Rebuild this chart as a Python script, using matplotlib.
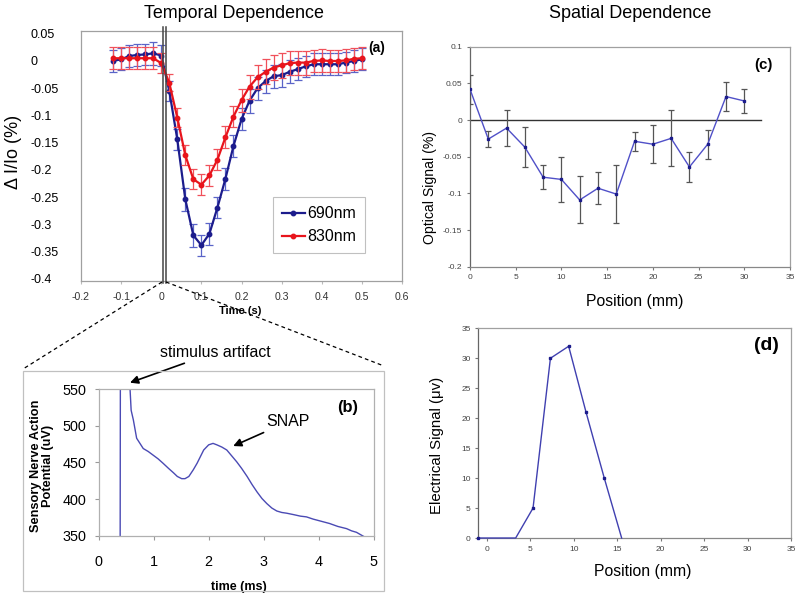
import matplotlib
matplotlib.use("Agg")
import matplotlib.pyplot as plt
from matplotlib.lines import Line2D
from matplotlib.patches import Rectangle

plt.rcParams['font.family'] = ['Liberation Sans', 'DejaVu Sans']

# ---- data: (a) temporal dependence ----
time_s = [-0.12, -0.10, -0.08, -0.06, -0.04, -0.02, 0.00, 0.02, 0.04, 0.06, 0.08,
          0.10, 0.12, 0.14, 0.16, 0.18, 0.20, 0.22, 0.24, 0.26, 0.28, 0.30, 0.32,
          0.34, 0.36, 0.38, 0.40, 0.42, 0.44, 0.46, 0.48, 0.50]
sig_690 = [0.000, 0.003, 0.009, 0.011, 0.012, 0.014, 0.010, -0.055, -0.144, -0.254, -0.320,
           -0.338, -0.317, -0.269, -0.216, -0.156, -0.107, -0.073, -0.050, -0.037, -0.028,
           -0.026, -0.020, -0.015, -0.010, -0.006, -0.006, -0.006, -0.006, -0.003, 0.000, 0.003]
err_690 = [0.020, 0.020, 0.020, 0.020, 0.020, 0.021, 0.020, 0.018, 0.020, 0.021, 0.021,
           0.019, 0.020, 0.019, 0.020, 0.021, 0.020, 0.022, 0.021, 0.021, 0.021,
           0.021, 0.021, 0.020, 0.020, 0.020, 0.020, 0.020, 0.020, 0.020, 0.020, 0.020]
sig_830 = [0.005, 0.005, 0.005, 0.005, 0.005, 0.005, -0.004, -0.040, -0.104, -0.173, -0.217,
           -0.227, -0.210, -0.181, -0.140, -0.102, -0.072, -0.047, -0.030, -0.020, -0.012,
           -0.008, -0.004, -0.003, -0.003, 0.000, 0.001, 0.000, 0.000, 0.001, 0.004, 0.005]
err_830 = [0.020, 0.020, 0.020, 0.020, 0.020, 0.020, 0.018, 0.016, 0.018, 0.018, 0.018,
           0.019, 0.019, 0.019, 0.020, 0.020, 0.021, 0.022, 0.022, 0.023, 0.023,
           0.023, 0.022, 0.022, 0.022, 0.021, 0.021, 0.021, 0.021, 0.021, 0.020, 0.020]
stim_marks = [0.004, 0.012]

# ---- data: (b) SNAP trace ----
time_ms = [0.39, 0.40, 0.57, 0.59, 0.63, 0.69, 0.75, 0.81, 0.90, 0.99, 1.08, 1.17, 1.27,
           1.36, 1.43, 1.51, 1.57, 1.64, 1.72, 1.79, 1.85, 1.91, 2.00, 2.08, 2.15, 2.24,
           2.33, 2.42, 2.51, 2.60, 2.70, 2.79, 2.88, 2.97, 3.06, 3.15, 3.24, 3.33, 3.42,
           3.55, 3.67, 3.78, 3.90, 4.05, 4.20, 4.35, 4.51, 4.60, 4.69, 4.76, 4.83]
snap_uv = [345, 900, 550, 521, 508, 483, 476, 469, 465, 460, 455, 449, 442,
           436, 431, 428, 428, 431, 440, 449, 458, 467, 474, 476, 474, 471,
           467, 459, 451, 442, 431, 420, 410, 401, 394, 388, 384, 382, 381,
           379, 377, 376, 373, 370, 367, 363, 360, 357, 355, 352, 349]

# ---- data: (c) optical signal vs position ----
pos_c = [0, 2, 4, 6, 8, 10, 12, 14, 16, 18, 20, 22, 24, 26, 28, 30]
optical = [0.042, -0.026, -0.011, -0.037, -0.078, -0.081, -0.109, -0.093, -0.101,
           -0.029, -0.033, -0.025, -0.064, -0.033, 0.032, 0.026]
optical_err = [0.020, 0.011, 0.025, 0.027, 0.016, 0.031, 0.032, 0.022, 0.040,
               0.013, 0.026, 0.038, 0.021, 0.020, 0.020, 0.016]
zero_line_end = 31.8

# ---- data: (d) electrical signal vs position ----
pos_d = [-1.0, 3.3, 5.3, 7.3, 9.4, 11.4, 13.5, 15.5]
electrical = [0, 0, 5, 30, 32, 21, 10, 0]
marked_d = [0, 2, 3, 4, 5, 6]

navy = '#1c1c8c'
red = '#e8141c'

fig = plt.figure(figsize=(8, 5.97), dpi=100)


def fx(x):
    return x / 800.0


def fy(y):
    return 1 - y / 597.0


# ================= (a) =================
ax_a = fig.add_axes([0.10125, 0.5293, 0.40125, 0.4188])
eb1 = ax_a.errorbar(time_s, sig_690, yerr=err_690, color=navy, ecolor='#5a64c8', lw=1.6,
                    elinewidth=0.9, capsize=3, capthick=0.9, marker='o', ms=3.2,
                    label='690nm', zorder=3)
eb2 = ax_a.errorbar(time_s, sig_830, yerr=err_830, color=red, ecolor='#f0505a', lw=1.6,
                    elinewidth=0.9, capsize=3, capthick=0.9, marker='o', ms=3.2,
                    label='830nm', zorder=4)
for xs in stim_marks:
    ax_a.plot([xs, xs], [0.063, -0.407], color='#444444', lw=1.1, clip_on=False, zorder=5)
ax_a.set_xlim(-0.2, 0.6)
ax_a.set_ylim(-0.4037, 0.055)
xt = [-0.2, -0.1, 0, 0.1, 0.2, 0.3, 0.4, 0.5, 0.6]
ax_a.set_xticks(xt)
ax_a.set_xticklabels(['-0.2', '-0.1', '0', '0.1', '0.2', '0.3', '0.4', '0.5', '0.6'],
                     fontsize=7.6, color='#333333')
yt = [0.05, 0, -0.05, -0.1, -0.15, -0.2, -0.25, -0.3, -0.35, -0.4]
ax_a.set_yticks(yt)
ax_a.set_yticklabels(['0.05', '0', '-0.05', '-0.1', '-0.15', '-0.2', '-0.25', '-0.3',
                      '-0.35', '-0.4'], fontsize=9)
ax_a.tick_params(axis='y', length=0, pad=36.7)
for lbl in ax_a.get_yticklabels():
    lbl.set_horizontalalignment('left')
ax_a.tick_params(axis='x', length=2, color='#bbbbbb', pad=6)
for s in ax_a.spines.values():
    s.set_color('#a0a0a0')
    s.set_linewidth(0.9)
leg = ax_a.legend([eb1[0], eb2[0]], ['690nm', '830nm'], loc='lower left',
                  bbox_to_anchor=(0.598, 0.112), borderaxespad=0,
                  fontsize=11.5, handlelength=1.45, handletextpad=0.15, borderpad=0.55,
                  labelspacing=0.5, fancybox=False, framealpha=1)
leg.get_frame().set_edgecolor('#c0c0c0')
leg.get_frame().set_linewidth(0.8)
ax_a.text(0.538, 0.024, '(a)', fontsize=10, fontweight='bold', ha='center', va='center')
fig.text(fx(14), fy(152), 'Δ I/Io (%)', rotation=90, fontsize=13, ha='center', va='center')
fig.text(fx(240), fy(311), 'Time (s)', fontsize=8, fontweight='bold', ha='center', va='center')
fig.text(fx(234), fy(13), 'Temporal Dependence', fontsize=12.9, ha='center', va='center')

# zoom-out dashed lines and (b) frame
fig.add_artist(Line2D([fx(162), fx(23)], [fy(282), fy(369)], color='black', lw=0.9,
                      ls=(0, (3, 2.5))))
fig.add_artist(Line2D([fx(166), fx(384)], [fy(282), fy(366)], color='black', lw=0.9,
                      ls=(0, (3, 2.5))))
fig.add_artist(Rectangle((fx(23), fy(591)), 361 / 800.0, 220 / 597.0, transform=fig.transFigure,
                         fill=False, edgecolor='#c0c0c0', lw=0.9))

# ================= (b) =================
ax_b = fig.add_axes([0.1234, 0.1022, 0.3435, 0.2462])
ax_b.plot(time_ms, snap_uv, color='#4a4ab4', lw=1.0)
ax_b.set_xlim(0, 5)
ax_b.set_ylim(350, 550)
ax_b.set_xticks([0, 1, 2, 3, 4, 5])
ax_b.set_yticks([350, 400, 450, 500, 550])
ax_b.tick_params(axis='both', labelsize=10.4, color='#999999', length=3)
ax_b.tick_params(axis='x', pad=11)
ax_b.tick_params(axis='y', pad=6)
for s in ax_b.spines.values():
    s.set_color('#b0b0b0')
    s.set_linewidth(0.9)
ax_b.set_xlabel('time (ms)', fontsize=9, fontweight='bold')
ax_b.xaxis.set_label_coords(0.51, -0.307)
fig.text(fx(42), fy(466), 'Sensory Nerve Action\nPotential (uV)', rotation=90, fontsize=9.2,
         fontweight='bold', ha='center', va='center', linespacing=1.1)
ax_b.annotate('stimulus artifact', xy=(0.569, 558.6), xytext=(2.13, 600.3),
              fontsize=11.4, ha='center', va='center', annotation_clip=False,
              arrowprops=dict(arrowstyle='-|>', color='black', lw=1.2, mutation_scale=12,
                              shrinkA=2, shrinkB=0))
ax_b.annotate('SNAP', xy=(2.447, 472.4), xytext=(3.05, 505.5), fontsize=11.5,
              ha='left', va='center',
              arrowprops=dict(arrowstyle='-|>', color='black', lw=1.2, mutation_scale=12,
                              shrinkA=1, shrinkB=0))
ax_b.text(4.52, 525.5, '(b)', fontsize=11.8, fontweight='bold', ha='center', va='center')

# ================= (c) =================
ax_c = fig.add_axes([0.5875, 0.5533, 0.4, 0.3685])
ax_c.plot([0, zero_line_end], [0, 0], color='#333333', lw=1.0, zorder=1)
ax_c.errorbar(pos_c, optical, yerr=optical_err, color='#5050c8', ecolor='#555555', lw=1.0,
              elinewidth=0.9, capsize=2, capthick=0.9, marker='s', ms=2.0, mfc=navy,
              mec=navy, zorder=3)
ax_c.set_xlim(0, 35)
ax_c.set_ylim(-0.2, 0.1)
ax_c.set_xticks([0, 5, 10, 15, 20, 25, 30, 35])
ax_c.set_yticks([0.1, 0.05, 0, -0.05, -0.1, -0.15, -0.2])
ax_c.set_yticklabels(['0.1', '0.05', '0', '-0.05', '-0.1', '-0.15', '-0.2'])
ax_c.tick_params(axis='both', labelsize=6, labelcolor='#444444', color='#777777', length=2.5,
                 pad=3)
for s in ax_c.spines.values():
    s.set_color('#a0a0a0')
    s.set_linewidth(0.9)
ax_c.spines['left'].set_color('#666666')
ax_c.spines['bottom'].set_color('#888888')
ax_c.text(32.05, 0.075, '(c)', fontsize=10.8, fontweight='bold', ha='center', va='center')
fig.text(fx(430), fy(187), 'Optical Signal (%)', rotation=90, fontsize=10.1, ha='center',
         va='center')
fig.text(fx(635), fy(301.7), 'Position (mm)', fontsize=11.3, ha='center', va='center')
fig.text(fx(630), fy(13.3), 'Spatial Dependence', fontsize=13, ha='center', va='center')

# ================= (d) =================
ax_d = fig.add_axes([0.5979, 0.0988, 0.3909, 0.3513])
ax_d.plot(pos_d, electrical, color='#4040b0', lw=1.0, marker='s', ms=2.0, mfc=navy, mec=navy,
          markevery=marked_d, clip_on=False, zorder=3)
ax_d.set_xlim(-1, 35)
ax_d.set_ylim(0, 35)
ax_d.set_xticks([0, 5, 10, 15, 20, 25, 30, 35])
ax_d.set_yticks([0, 5, 10, 15, 20, 25, 30, 35])
ax_d.tick_params(axis='both', labelsize=6, labelcolor='#444444', color='#777777', length=2.5,
                 pad=3)
for s in ax_d.spines.values():
    s.set_color('#a0a0a0')
    s.set_linewidth(0.9)
ax_d.spines['left'].set_color('#666666')
ax_d.spines['bottom'].set_color('#888888')
ax_d.text(32.2, 32.2, '(d)', fontsize=14, fontweight='bold', ha='center', va='center')
fig.text(fx(437), fy(445), 'Electrical Signal (μv)', rotation=90, fontsize=10.8, ha='center',
         va='center')
fig.text(fx(643), fy(571.7), 'Position (mm)', fontsize=11.3, ha='center', va='center')

fig.savefig('out.png', dpi=100)
